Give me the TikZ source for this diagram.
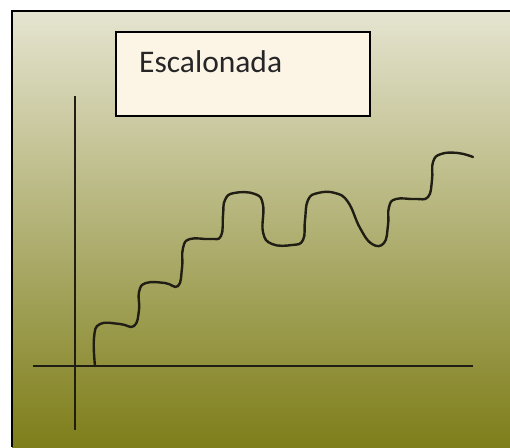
\documentclass[tikz,border=0pt]{standalone}
\usepackage{fontspec}
\setmainfont{Carlito}
\definecolor{fondoarriba}{RGB}{229,228,208}
\definecolor{fondomedio}{RGB}{200,199,154}
\definecolor{fondoabajo}{RGB}{126,126,26}
\definecolor{crema}{RGB}{252,245,230}
\definecolor{trazo}{RGB}{32,30,20}

\begin{document}
\begin{tikzpicture}[x = 1pt, y = -1pt,
		eje/.style = {draw = trazo, line width = 1.8pt},
		onda/.style = {draw = trazo, line width = 2.4pt, line cap = round}]
		\useasboundingbox (0, 0) rectangle (510, 447);
		%%%%%%%%%%%%%
		\shade [top color = fondoarriba, middle color = fondomedio, bottom color = fondoabajo] (12, 11) rectangle (510, 447);
		\draw [line width = 1.4pt] (12, 447) -- (12, 11) -- (510, 11);
		%%%%%%%%%%%%%
		\node (caja) [draw, fill = crema, line width = 1.2pt, minimum width = 254pt, minimum height = 84pt] at (243, 74) {};
		\node (titulo) [anchor = base west, inner sep = 0pt, text = black!85, font = \fontsize{31.5}{38}\selectfont] at (139, 72) {Escalonada};
		%%%%%%%%%%%%%
		\coordinate (y0) at (75, 430); \coordinate (y1) at (75, 96);
		\coordinate (x0) at (33, 366); \coordinate (x1) at (473, 366);
		\draw [eje] (y0) to (y1); \draw [eje] (x0) to (x1);
		%%%%%%%%%%%%%
		\draw [onda] plot [smooth, tension = 0.75] coordinates {
			(95, 366) (94, 338) (100, 324) (120, 324) (134, 326) (139, 310) (139, 292) (146, 283)
			(165, 283) (178, 286) (182, 268) (183, 248) (190, 239) (210, 239) (221, 236) (223, 215)
			(225, 200) (234, 193) (255, 194) (263, 205) (263, 232) (272, 244) (292, 245) (303, 240)
			(305, 220) (308, 200) (318, 193) (335, 193) (348, 202) (360, 228) (372, 244) (384, 243)
			(388, 225) (389, 207) (396, 199) (415, 199) (428, 197) (432, 180) (433, 162) (441, 154)
			(458, 153) (473, 157)};
\end{tikzpicture}
\end{document}
